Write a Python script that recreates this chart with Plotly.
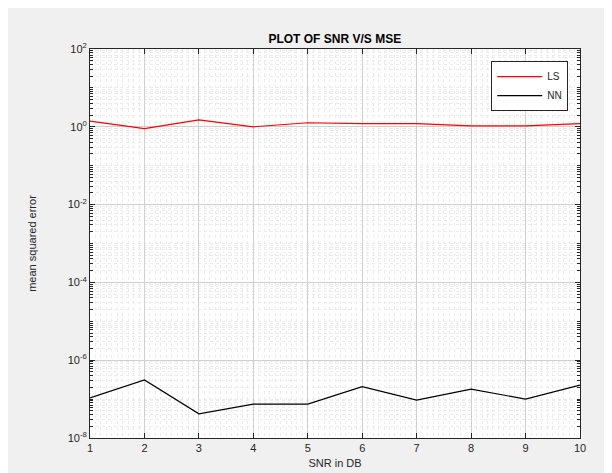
import plotly.graph_objects as go

snr_db = [1, 2, 3, 4, 5, 6, 7, 8, 9, 10]
mse_ls = [1.4, 0.9, 1.5, 1.0, 1.27, 1.2, 1.2, 1.06, 1.06, 1.2]
mse_nn = [1.07e-7, 3.1e-7, 4.2e-8, 7.4e-8, 7.4e-8, 2.1e-7, 9.4e-8, 1.8e-7, 1.0e-7, 2.3e-7]
x_ticks = [1, 2, 3, 4, 5, 6, 7, 8, 9, 10]
y_exponents = [-8, -6, -4, -2, 0, 2]

y_tickvals = [10.0 ** e for e in y_exponents]
y_ticktext = ["10<sup>%d</sup>" % e for e in y_exponents]

fig = go.Figure()
fig.add_trace(go.Scatter(x=snr_db, y=mse_ls, mode="lines", name="LS",
                         line=dict(color="#ff0000", width=1.2)))
fig.add_trace(go.Scatter(x=snr_db, y=mse_nn, mode="lines", name="NN",
                         line=dict(color="#000000", width=1.2)))

axis_col = "#262626"
fig.update_layout(
    width=612, height=473,
    paper_bgcolor="#f0f0f0", plot_bgcolor="#ffffff",
    margin=dict(l=82, r=40, t=41, b=43),
    font=dict(family="Liberation Sans, Arial, sans-serif", size=11, color=axis_col),
    title=dict(text="<b>PLOT OF SNR V/S MSE</b>", x=0.534, xanchor="center",
               y=1 - 31 / 473, yanchor="middle", font=dict(size=12, color="#000000")),
    showlegend=True,
    legend=dict(x=0.976, xanchor="right", y=0.969, yanchor="top",
                bgcolor="#ffffff", bordercolor="#262626", borderwidth=1,
                font=dict(size=10, color=axis_col), tracegroupgap=0, itemwidth=45),
)
fig.update_xaxes(
    range=[1, 10], tickmode="array", tickvals=x_ticks,
    ticks="inside", ticklen=5, tickcolor=axis_col,
    showline=True, linecolor=axis_col, linewidth=1, mirror="ticks",
    showgrid=True, gridcolor="#d0d0d0", gridwidth=1,
    minor=dict(dtick=0.1, showgrid=True, gridcolor="#ececec", griddash="dot", ticks=""),
    zeroline=False,
    title=dict(text="SNR in DB", standoff=6, font=dict(size=11)),
    tickfont=dict(size=11),
)
fig.update_yaxes(
    type="log", range=[-8, 2], tickmode="array", tickvals=y_tickvals, ticktext=y_ticktext,
    ticks="inside", ticklen=5, tickcolor=axis_col,
    showline=True, linecolor=axis_col, linewidth=1, mirror="ticks",
    showgrid=True, gridcolor="#d0d0d0", gridwidth=1,
    minor=dict(dtick="D1", showgrid=True, gridcolor="#ececec", griddash="dot",
               ticks="inside", ticklen=3, tickcolor=axis_col),
    zeroline=False,
    title=dict(text="mean squared error", standoff=28, font=dict(size=11)),
    tickfont=dict(size=11),
)

fig.write_html("out.html")
